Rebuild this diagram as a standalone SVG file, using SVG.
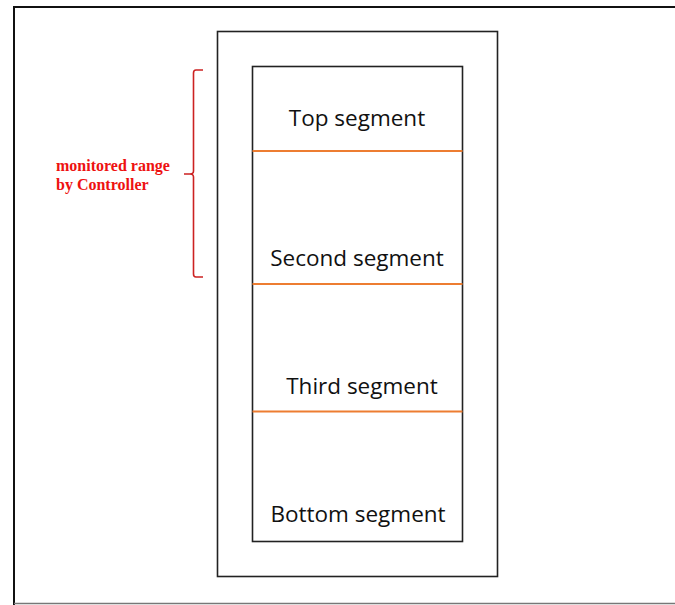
<svg xmlns="http://www.w3.org/2000/svg" width="675" height="605" viewBox="0 0 675 605">
  <style>
    .frame { fill: none; stroke: #111; stroke-width: 2; }
    .box { fill: none; stroke: #222; stroke-width: 1.6; }
    .divider { stroke: #ed7d31; stroke-width: 2; }
    .seg { font-family: "Open Sans", "Liberation Sans", sans-serif; font-size: 22.5px; fill: #111; text-anchor: middle; }
    .note { font-family: "Liberation Serif", serif; font-size: 16px; font-weight: bold; fill: #ee1111; }
    .brace { fill: none; stroke: #cc2222; stroke-width: 1.6; }
  </style>
  <rect width="675" height="605" fill="#fff"/>
  <!-- page border -->
  <path d="M14 605 V7 H675" class="frame"/>
  <line x1="14" y1="603.5" x2="675" y2="603.5" stroke="#777" stroke-width="1.5"/>

  <g id="container">
    <rect x="217.5" y="31.5" width="280" height="545" class="box"/>
  </g>
  <g id="stack">
    <rect x="252.5" y="66.5" width="210" height="475" class="box"/>
  </g>

  <g id="connectors">
    <line x1="252.5" y1="151" x2="462.5" y2="151" class="divider"/>
    <line x1="252.5" y1="284" x2="462.5" y2="284" class="divider"/>
    <line x1="252.5" y1="411.5" x2="462.5" y2="411.5" class="divider"/>
  </g>

  <g id="top-segment"><text x="357" y="126" class="seg">Top segment</text></g>
  <g id="second-segment"><text x="357" y="266" class="seg">Second segment</text></g>
  <g id="third-segment"><text x="362" y="394" class="seg">Third segment</text></g>
  <g id="bottom-segment"><text x="358" y="522" class="seg">Bottom segment</text></g>

  <g id="monitored-range">
    <path d="M203 70 H196 Q193.5 70 193.5 73 V171 Q193.5 174 190 174 H184 M190 174 Q193.5 174 193.5 177 V274 Q193.5 277 196 277 H203" class="brace"/>
    <text x="56" y="171" class="note">monitored range</text>
    <text x="56" y="190" class="note">by Controller</text>
  </g>
</svg>
